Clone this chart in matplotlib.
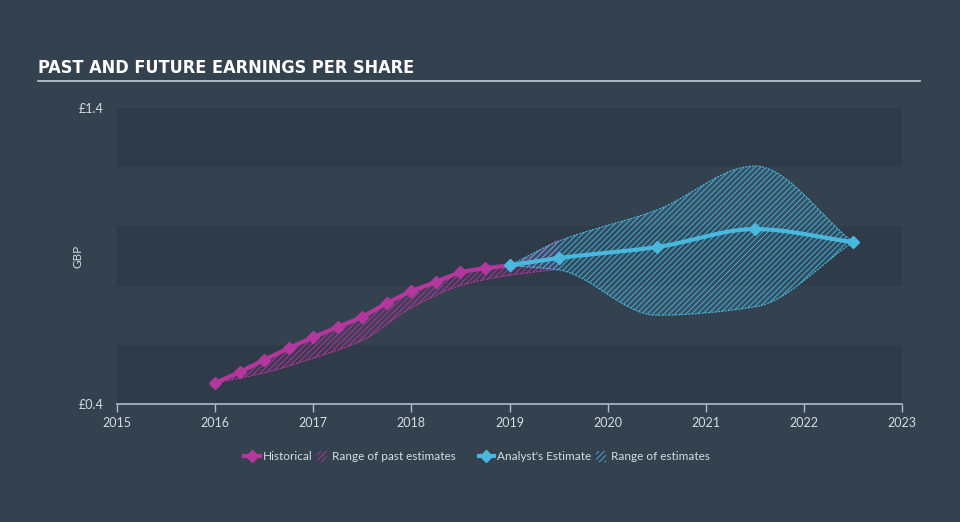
import numpy as np
import matplotlib
matplotlib.use('Agg')
import matplotlib.pyplot as plt
import matplotlib.lines as mlines
import matplotlib.patches as mpatches
from matplotlib.legend_handler import HandlerPatch

# historical EPS, quarterly
hist_x = [2016.0, 2016.25, 2016.5, 2016.75, 2017.0, 2017.25, 2017.5, 2017.75,
          2018.0, 2018.25, 2018.5, 2018.75, 2019.0]
hist_y = [0.471, 0.508, 0.549, 0.589, 0.626, 0.660, 0.694, 0.741,
          0.782, 0.812, 0.846, 0.859, 0.868]

# past estimate range
past_x = [2016.0, 2016.5, 2017.0, 2017.5, 2018.0, 2018.5, 2019.0, 2019.5]
past_lo = [0.471, 0.505, 0.555, 0.615, 0.725, 0.800, 0.835, 0.855]
past_hi = [0.471, 0.549, 0.626, 0.694, 0.782, 0.846, 0.868, 0.955]

# analyst estimates
fc_x = [2019.0, 2019.5, 2020.5, 2021.5, 2022.5]
fc_y = [0.868, 0.893, 0.930, 0.991, 0.947]
fc_lo = [0.868, 0.853, 0.700, 0.728, 0.947]
fc_hi = [0.868, 0.950, 1.055, 1.204, 0.947]

years = [2015, 2016, 2017, 2018, 2019, 2020, 2021, 2022, 2023]

pink = '#b4379e'
blue = '#48b8de'
bg = '#34414f'
band = '#2f3b49'
txt = '#d5dbe2'


def monotone(x, y, n=200):
    # monotone cubic (Fritsch-Carlson) for smooth drawing
    x = np.asarray(x, float)
    y = np.asarray(y, float)
    h = np.diff(x)
    d = np.diff(y) / h
    m = np.zeros_like(y)
    m[0], m[-1] = d[0], d[-1]
    for i in range(1, len(y) - 1):
        if d[i - 1] * d[i] <= 0:
            m[i] = 0
        else:
            w1 = 2 * h[i] + h[i - 1]
            w2 = h[i] + 2 * h[i - 1]
            m[i] = (w1 + w2) / (w1 / d[i - 1] + w2 / d[i])
    xs = np.linspace(x[0], x[-1], n)
    k = np.clip(np.searchsorted(x, xs) - 1, 0, len(x) - 2)
    t = (xs - x[k]) / h[k]
    h00 = 2 * t**3 - 3 * t**2 + 1
    h10 = t**3 - 2 * t**2 + t
    h01 = -2 * t**3 + 3 * t**2
    h11 = t**3 - t**2
    ys = h00 * y[k] + h10 * h[k] * m[k] + h01 * y[k + 1] + h11 * h[k] * m[k + 1]
    return xs, ys


def small_patch(legend, orig_handle, xdescent, ydescent, width, height, fontsize):
    # narrow hatched swatch like the original legend
    return mpatches.Rectangle((width - 8, -1), 7, height + 2)


plt.rcParams['hatch.linewidth'] = 0.6
plt.rcParams['font.family'] = ['Lato', 'DejaVu Sans']

fig = plt.figure(figsize=(9.6, 5.22), dpi=100, facecolor=bg)
ax = fig.add_axes([117 / 960, 1 - 404 / 522, 785 / 960, 296 / 522])
ax.set_facecolor(bg)

# alternating bands
for lo in [0.4, 0.8, 1.2]:
    ax.axhspan(lo, lo + 0.2, color=band, lw=0, zorder=0)

# past range
px, plo = monotone(past_x, past_lo)
_, phi = monotone(past_x, past_hi)
ax.fill_between(px, plo, phi, facecolor=pink, alpha=0.12, lw=0, zorder=1)
ax.fill_between(px, plo, phi, facecolor='none', edgecolor=pink, hatch='//////',
                lw=0, zorder=1)
ax.plot(px, plo, color=pink, lw=0.8, ls=(0, (2, 1)), zorder=1)
ax.plot(px, phi, color=pink, lw=0.8, ls=(0, (2, 1)), zorder=1)

# forecast range
fx, flo = monotone(fc_x, fc_lo)
_, fhi = monotone(fc_x, fc_hi)
ax.fill_between(fx, flo, fhi, facecolor=blue, alpha=0.15, lw=0, zorder=2)
ax.fill_between(fx, flo, fhi, facecolor='none', edgecolor=blue, hatch='//////',
                lw=0, zorder=2)
ax.plot(fx, flo, color=blue, lw=0.8, ls=(0, (2, 1)), zorder=2)
ax.plot(fx, fhi, color=blue, lw=0.8, ls=(0, (2, 1)), zorder=2)

# lines
ax.plot(hist_x, hist_y, color=pink, lw=3, marker='D', ms=6.5, zorder=3)
sx, sy = monotone(fc_x, fc_y)
ax.plot(sx, sy, color=blue, lw=3, zorder=4)
ax.plot(fc_x, fc_y, ls='none', color=blue, marker='D', ms=6.5, zorder=4)

ax.set_xlim(2015, 2023)
ax.set_ylim(0.4, 1.4)
ax.set_xticks(years)
ax.set_xticklabels([str(y) for y in years])
ax.set_yticks([0.4, 1.4])
ax.set_yticklabels(['£0.4', '£1.4'])
ax.tick_params(axis='x', colors='#aebccb', labelcolor=txt, labelsize=9, length=6, width=1)
ax.tick_params(axis='y', length=0, labelcolor=txt, labelsize=9, pad=10)
for s in ['top', 'right', 'left']:
    ax.spines[s].set_visible(False)
ax.spines['bottom'].set_color('#aebccb')
ax.spines['bottom'].set_linewidth(1.2)
ax.set_ylabel('GBP', color=txt, fontsize=8.5)
ax.yaxis.set_label_coords(-33 / 785, 0.5)

# title
fig.text(38 / 960, 1 - 68 / 522, 'PAST AND FUTURE EARNINGS PER SHARE', color='white',
         fontsize=13, fontweight='bold', fontstretch='condensed',
         family='DejaVu Sans', va='center', ha='left')
fig.add_artist(mlines.Line2D([38 / 960, 920 / 960], [1 - 81 / 522, 1 - 81 / 522],
                             color='#c5ccd4', lw=1.2))

# legend, two groups
h1 = mlines.Line2D([], [], color=pink, marker='D', ms=6, lw=3, label='Historical')
h2 = mpatches.Patch(facecolor='none', edgecolor=pink, hatch='//////', lw=0,
                    label='Range of past estimates')
h3 = mlines.Line2D([], [], color=blue, marker='D', ms=6, lw=3, label="Analyst's Estimate")
h4 = mpatches.Patch(facecolor='none', edgecolor=blue, hatch='//////', lw=0,
                    label='Range of estimates')
hmap = {mpatches.Patch: HandlerPatch(patch_func=small_patch)}
groups = [([h1, h2], 350), ([h3, h4], 594)]
for hs, cx in groups:
    leg = fig.legend(handles=hs, loc='center', bbox_to_anchor=(cx / 960, 1 - 457 / 522),
                     ncol=2, frameon=False, fontsize=8.5, handlelength=1.3, handletextpad=0.3,
                     columnspacing=0.0, handleheight=0.7, borderpad=0, handler_map=hmap)
    for t in leg.get_texts():
        t.set_color(txt)

fig.savefig('out.png', dpi=100, facecolor=bg)
